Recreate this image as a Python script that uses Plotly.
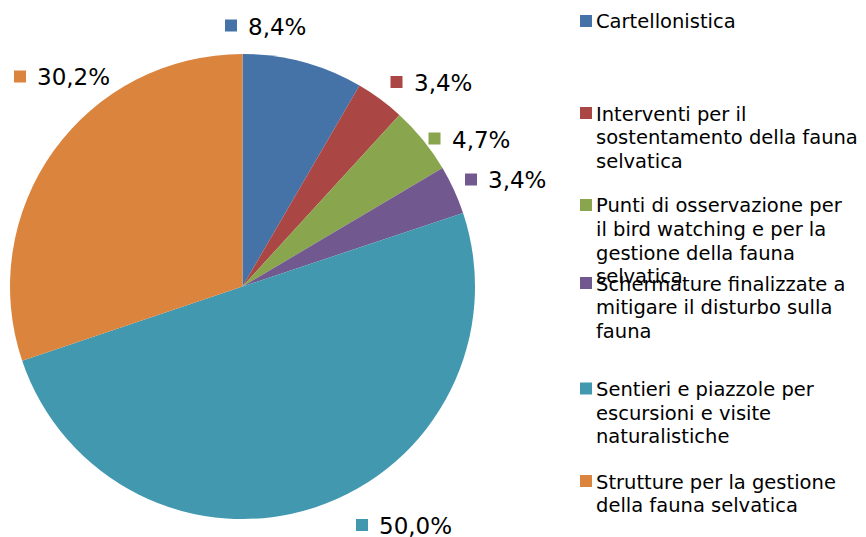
import plotly.graph_objects as go

# Data
categories = [
    "Cartellonistica",
    "Interventi per il sostentamento della fauna selvatica",
    "Punti di osservazione per il bird watching e per la gestione della fauna selvatica",
    "Schermature finalizzate a mitigare il disturbo sulla fauna",
    "Sentieri e piazzole per escursioni e visite naturalistiche",
    "Strutture per la gestione della fauna selvatica",
]
legend_lines = [
    ["Cartellonistica"],
    ["Interventi per il", "sostentamento della fauna", "selvatica"],
    ["Punti di osservazione per", "il bird watching e per la", "gestione della fauna", "selvatica"],
    ["Schermature finalizzate a", "mitigare il disturbo sulla", "fauna"],
    ["Sentieri e piazzole per", "escursioni e visite", "naturalistiche"],
    ["Strutture per la gestione", "della fauna selvatica"],
]
percentages = [8.4, 3.4, 4.7, 3.4, 50.0, 30.2]

# Styling
colors = ["#4572A7", "#AA4643", "#89A54E", "#71588F", "#4198AF", "#DB843D"]
W, H = 866, 537
FONT = "DejaVu Sans"

# Pixel layout helpers
def px_x(x):
    return x / W

def px_y(y):
    return 1 - y / H

# Label placement (left edge of the marker square, vertical centre), pixels
label_anchor_px = [(225, 25.5), (390.5, 82), (428.5, 138.5), (465, 179.5), (356, 525), (14, 76.5)]
# Legend rows: vertical centre of the first text line of each entry, pixels
legend_row_px = [21, 113, 205, 283, 388.5, 481]
legend_x_px = 580
legend_line_step = 23.5
square = 12

fig = go.Figure(
    go.Pie(
        labels=categories,
        values=percentages,
        sort=False,
        direction="clockwise",
        rotation=0,
        marker=dict(colors=colors, line=dict(width=0)),
        textinfo="none",
        hovertemplate="%{label}: %{value:.1f}%<extra></extra>",
        domain=dict(x=[px_x(10), px_x(475)], y=[px_y(519), px_y(54)]),
        showlegend=False,
    )
)

shapes = []
annotations = []

def fmt(v):
    return f"{v:.1f}%".replace(".", ",")

# Data labels: coloured square followed by the percentage
for (ax, ay), v, c in zip(label_anchor_px, percentages, colors):
    shapes.append(dict(
        type="rect", xref="paper", yref="paper",
        x0=px_x(ax), x1=px_x(ax + square),
        y0=px_y(ay + square / 2), y1=px_y(ay - square / 2),
        fillcolor=c, line=dict(width=0),
    ))
    annotations.append(dict(
        x=px_x(ax + square + 9), y=px_y(ay + 1), xref="paper", yref="paper",
        xanchor="left", yanchor="middle", showarrow=False,
        text=fmt(v), font=dict(family=FONT, size=23, color="#000000"),
    ))

# Legend drawn as squares and wrapped text lines
for lines, ry, c in zip(legend_lines, legend_row_px, colors):
    shapes.append(dict(
        type="rect", xref="paper", yref="paper",
        x0=px_x(legend_x_px), x1=px_x(legend_x_px + square),
        y0=px_y(ry + square / 2), y1=px_y(ry - square / 2),
        fillcolor=c, line=dict(width=0),
    ))
    for j, line in enumerate(lines):
        annotations.append(dict(
            x=px_x(legend_x_px + 14), y=px_y(ry + 1 + j * legend_line_step),
            xref="paper", yref="paper",
            xanchor="left", yanchor="middle", showarrow=False,
            text=line, font=dict(family=FONT, size=19.5, color="#000000"),
        ))

fig.update_layout(
    width=W, height=H,
    margin=dict(l=0, r=0, t=0, b=0),
    paper_bgcolor="#FFFFFF",
    plot_bgcolor="#FFFFFF",
    shapes=shapes,
    annotations=annotations,
)

fig.write_html("out.html")
